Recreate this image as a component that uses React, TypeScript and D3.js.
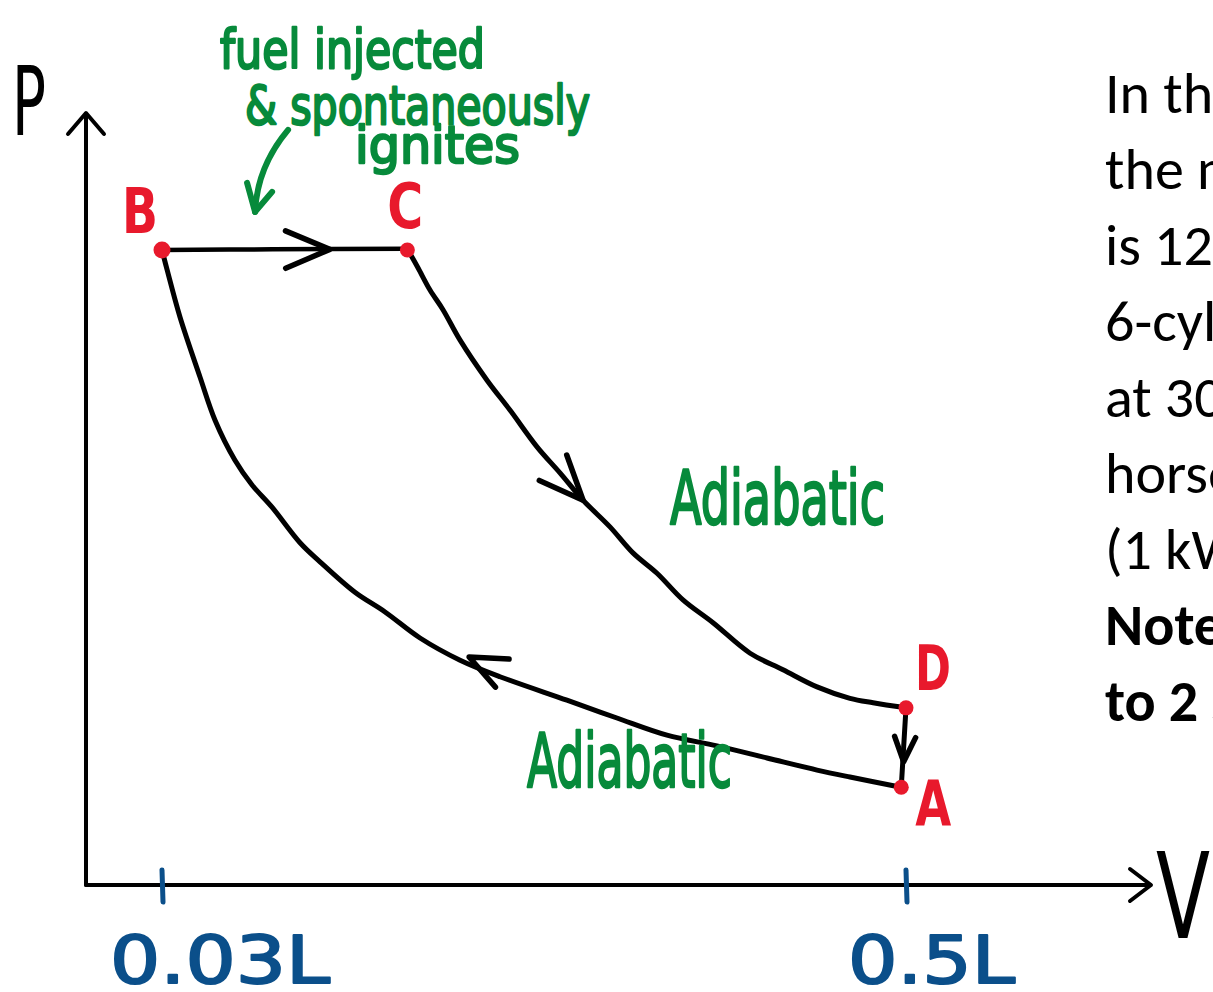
import React from 'react';
import * as d3 from 'd3';

// Diesel cycle sketch: P (relative, B = 100) against V (litres)

const W = 1213;
const H = 992;

const stateNames = ['A', 'B', 'C', 'D'];
const stateV = [0.497, 0.03, 0.185, 0.5];
const stateP = [15.4, 100, 100, 27.9];

// A -> B adiabatic compression
const compV = [0.4968, 0.4646, 0.4438, 0.4122, 0.3806, 0.349, 0.3174, 0.2858, 0.2435, 0.2183, 0.193, 0.1709, 0.1519, 0.1298, 0.1172, 0.0995, 0.0869, 0.0761, 0.0635, 0.054, 0.0414, 0.0332, 0.03];
const compP = [15.4, 17.0, 18.1, 20.0, 21.9, 23.6, 26.3, 29.1, 32.8, 35.4, 38.9, 43.0, 46.1, 50.9, 53.9, 59.5, 63.0, 66.9, 73.2, 80.0, 89.4, 96.9, 100];

// B -> C fuel burns at constant pressure
const heatV = [0.03, 0.1, 0.185];
const heatP = [100, 100.1, 100.2];

// C -> D adiabatic expansion
const expV = [0.1854, 0.1917, 0.1993, 0.2075, 0.2183, 0.2353, 0.2498, 0.2669, 0.2814, 0.296, 0.313, 0.3275, 0.3427, 0.3591, 0.3781, 0.4015, 0.4223, 0.4438, 0.4646, 0.4792, 0.5];
const expP = [100, 97.2, 93.7, 90.6, 85.8, 79.5, 74.8, 69.0, 64.9, 60.6, 56.4, 52.3, 49.1, 44.9, 41.3, 36.5, 33.9, 31.2, 29.4, 28.7, 27.9];

// D -> A constant volume
const coolV = [0.5, 0.497];
const coolP = [27.9, 15.4];

// where the direction arrows sit on each process
const arrowV = [0.136, 0.296, 0.224, 0.4985];
const arrowP = [100.1, 60.6, 35.9, 19.4];

const vTicks = [0.03, 0.5];
const vTickLabels = ['0.03L', '0.5L'];

const noteLines = ['In the', 'the max', 'is 12.', '6-cylinder', 'at 3000', 'horsepower', '(1 kW', 'Note:', 'to 2 s'];
const noteBold = [false, false, false, false, false, false, false, true, true];

const INK = '#000';
const RED = '#e8192c';
const GREEN = '#078a3b';
const BLUE = '#0b4f8a';
const HAND = '"DejaVu Sans", "Liberation Sans", sans-serif';

const x = d3.scaleLinear().domain([0.03, 0.5]).range([162, 906]);
const y = d3.scaleLinear().domain([0, 100]).range([885, 250]);

const line = d3
  .line<[number, number]>()
  .x(d => x(d[0]))
  .y(d => y(d[1]))
  .curve(d3.curveCatmullRom.alpha(0.5));

const zip = (vs: number[], ps: number[]) => vs.map((v, i) => [v, ps[i]] as [number, number]);

const processes = [zip(heatV, heatP), zip(expV, expP), zip(compV, compP), zip(coolV, coolP)];
const armLen = [48, 48, 40, 27];

// chevron at a point on a process, pointing the way the process runs
function chevron(pts: [number, number][], tip: [number, number], len: number, half = 0.4) {
  const px = pts.map(p => [x(p[0]), y(p[1])]);
  const tx = x(tip[0]);
  const ty = y(tip[1]);
  let best = 0;
  px.forEach((p, i) => {
    if (Math.hypot(p[0] - tx, p[1] - ty) < Math.hypot(px[best][0] - tx, px[best][1] - ty)) best = i;
  });
  const a = px[Math.max(0, best - 1)];
  const b = px[Math.min(px.length - 1, best + 1)];
  const ang = Math.atan2(a[1] - b[1], a[0] - b[0]);
  const p1 = [tx + len * Math.cos(ang - half), ty + len * Math.sin(ang - half)];
  const p2 = [tx + len * Math.cos(ang + half), ty + len * Math.sin(ang + half)];
  return `M${p1[0]},${p1[1]}L${tx},${ty}L${p2[0]},${p2[1]}`;
}

const labelOffset: Record<string, [number, number]> = {
  A: [32, 38],
  B: [-22, -17],
  C: [-2, -22],
  D: [27, -18],
};

export default function App() {
  const ox = 86;
  const oy = 885;
  // tip of the green pointer, just above the B -> C line
  const gx = x(0.0888);
  const gy = y(106);

  return (
    <div style={{ position: 'absolute', left: 0, top: 0, width: W, height: H, overflow: 'hidden', background: '#fff' }}>
      <svg width={W} height={H} style={{ display: 'block' }}>
        <rect width={W} height={H} fill="#fff" />

        {/* axes */}
        <g stroke={INK} strokeWidth={4} fill="none" strokeLinecap="round" strokeLinejoin="round">
          <path d={`M${ox},${oy}L${ox},114`} />
          <path d={`M${ox - 18},134L${ox},113L${ox + 18},134`} />
          <path d={`M${ox},${oy}L1150,${oy}`} />
          <path d={`M1130,${oy - 16}L1151,${oy}L1130,${oy + 16}`} />
        </g>
        <text x={12} y={135} fontFamily={HAND} fontSize={96} textLength={34} lengthAdjust="spacingAndGlyphs" fill={INK}>P</text>
        <text x={1156} y={938} fontFamily={HAND} fontSize={120} textLength={54} lengthAdjust="spacingAndGlyphs" fill={INK}>V</text>

        {/* volume ticks */}
        {vTicks.map((v, i) => (
          <g key={v}>
            <line x1={x(v)} x2={x(v) + 1} y1={oy - 15} y2={oy + 17} stroke={BLUE} strokeWidth={5} strokeLinecap="round" />
            <text
              x={x(v) - (i === 0 ? 52 : 58)}
              y={983}
              fontFamily={HAND}
              fontSize={66}
              textLength={i === 0 ? 220 : 167}
              lengthAdjust="spacingAndGlyphs"
              fill={BLUE}
              stroke={BLUE}
              strokeWidth={2}
              strokeLinejoin="round"
            >
              {vTickLabels[i]}
            </text>
          </g>
        ))}

        {/* cycle */}
        <g stroke={INK} fill="none" strokeLinecap="round" strokeLinejoin="round">
          {processes.map((pts, i) => (
            <path key={i} d={line(pts) || ''} strokeWidth={i === 0 ? 4.5 : 5} />
          ))}
          {processes.map((pts, i) => (
            <path key={'a' + i} d={chevron(pts, [arrowV[i], arrowP[i]], armLen[i])} strokeWidth={5.5} />
          ))}
        </g>

        {/* state points */}
        {stateNames.map((n, i) => (
          <g key={n}>
            <circle cx={x(stateV[i])} cy={y(stateP[i])} r={n === 'B' ? 8.5 : 7.5} fill={RED} />
            <text
              x={x(stateV[i]) + labelOffset[n][0]}
              y={y(stateP[i]) + labelOffset[n][1]}
              textAnchor="middle"
              fontFamily={HAND}
              fontWeight="bold"
              fontSize={62}
              textLength={36}
              lengthAdjust="spacingAndGlyphs"
              fill={RED}
            >
              {n}
            </text>
          </g>
        ))}

        {/* annotations */}
        <g fill={GREEN} fontFamily={HAND} stroke={GREEN} strokeWidth={2.5} strokeLinejoin="round">
          <text x={220} y={68} fontSize={54} textLength={265} lengthAdjust="spacingAndGlyphs">fuel injected</text>
          <text x={245} y={124} fontSize={54} textLength={345} lengthAdjust="spacingAndGlyphs">&amp; spontaneously</text>
          <text x={355} y={163} fontSize={52} textLength={165} lengthAdjust="spacingAndGlyphs">ignites</text>
          <text x={670} y={524} fontSize={74} textLength={215} lengthAdjust="spacingAndGlyphs">Adiabatic</text>
          <text x={527} y={787} fontSize={74} textLength={205} lengthAdjust="spacingAndGlyphs">Adiabatic</text>
        </g>
        <g stroke={GREEN} strokeWidth={6} fill="none" strokeLinecap="round" strokeLinejoin="round">
          <path d={`M${gx + 33},${gy - 82}Q${gx + 2},${gy - 45} ${gx},${gy}`} />
          <path d={`M${gx - 8},${gy - 29}L${gx},${gy}L${gx + 17},${gy - 20}`} />
        </g>

        {/* problem text, cut off at the right edge */}
        <g fontFamily="Carlito, Lato, 'Open Sans', sans-serif" fontSize={58} fill="#000">
          {noteLines.map((t, i) => (
            <text key={i} x={1105} y={113 + 76 * i} fontWeight={noteBold[i] ? 'bold' : 'normal'}>
              {t}
            </text>
          ))}
        </g>
      </svg>
    </div>
  );
}
